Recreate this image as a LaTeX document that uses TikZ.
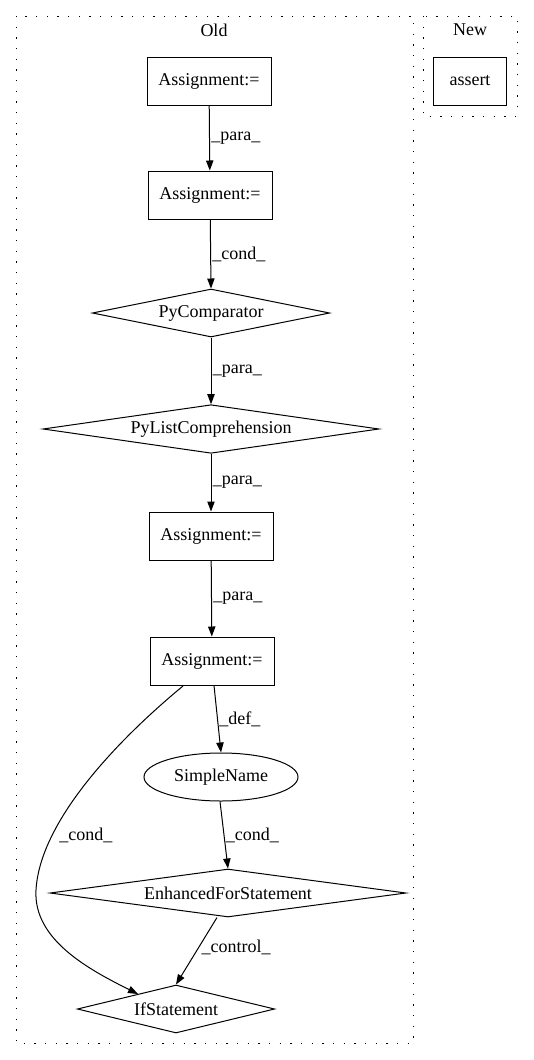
\documentclass[tikz,border=0pt]{standalone}
\usepackage{fontspec}
\setmainfont{Liberation Serif}
\usetikzlibrary{shapes.geometric,arrows.meta}
\begin{document}
\begin{tikzpicture}[x=0.75pt,y=-0.75pt,
  every node/.style={font=\fontsize{13.5pt}{16pt}\selectfont, inner sep=0pt},
  cluster/.style={draw, line width=0.75pt, dash pattern=on 1pt off 7pt},
  boxnode/.style={draw, line width=0.75pt, rectangle, minimum width=93pt, minimum height=36pt},
  dia/.style={draw, line width=0.75pt, diamond, aspect=5, minimum height=36pt},
  ell/.style={draw, line width=0.75pt, ellipse, minimum width=115.5pt, minimum height=36pt},
  edge/.style={draw, line width=0.75pt, -{Triangle[length=7.5pt,width=5.5pt]}},
  lab/.style={anchor=west}
]
\useasboundingbox (0,0) rectangle (533,1060);
% clusters
\draw[cluster] (16,16) rectangle (413,1043);
\draw[cluster] (423,16) rectangle (517,116);
\node (toldt) at (214,30) {Old};
\node (tnew) at (470,30) {New};
% nodes
\node[boxnode, minimum width=55pt] (assert) at (470,81) {assert};
\node[boxnode] (a1) at (209,81) {Assignment:=};
\node[boxnode] (a2) at (210,195) {Assignment:=};
\node[dia, minimum width=178pt] (pc) at (211,313) {PyComparator};
\node[dia, minimum width=252pt] (plc) at (211,429) {PyListComprehension};
\node[boxnode] (a3) at (211,536) {Assignment:=};
\node[boxnode] (a4) at (212,661) {Assignment:=};
\node[ell] (sn) at (221,777) {SimpleName};
\node[dia, minimum width=267pt] (efs) at (228,893) {EnhancedForStatement};
\node[dia, minimum width=148pt] (ifs) at (176,1009) {IfStatement};
% edges
\draw[edge] (a1) -- (a2) node[pos=0.5, lab, xshift=1pt] {\_para\_};
\draw[edge] (a2) -- (pc.north) node[pos=0.5, lab, xshift=1pt] {\_cond\_};
\draw[edge] (pc) -- (plc.north) node[pos=0.5, lab, xshift=1pt] {\_para\_};
\draw[edge] (plc) -- (a3) node[pos=0.5, lab, xshift=1pt] {\_para\_};
\draw[edge] (a3) -- (a4) node[pos=0.5, lab, xshift=1pt] {\_para\_};
\draw[edge] (a4.south) ++(2,0) coordinate (a4s) (a4s) -- (sn.north) node[pos=0.5, lab, xshift=1pt] {\_def\_};
\draw[edge] (sn.south) ++(-1,0) coordinate (sns) (sns) -- (efs.north) node[pos=0.5, lab, xshift=1pt] {\_cond\_};
\draw[edge] (efs.south) ++(-11,0) coordinate (efss) (efss) -- (ifs.north) node[pos=0.45, lab, xshift=2pt] {\_control\_};
\coordinate (a4l) at (183,686);
\draw[edge] (a4l) .. controls (120,738) and (40,820) .. (36,890)
  .. controls (33,940) and (90,970) .. (138,994);
\node[lab] (lc) at (59,835) {\_cond\_};
\end{tikzpicture}
\end{document}
